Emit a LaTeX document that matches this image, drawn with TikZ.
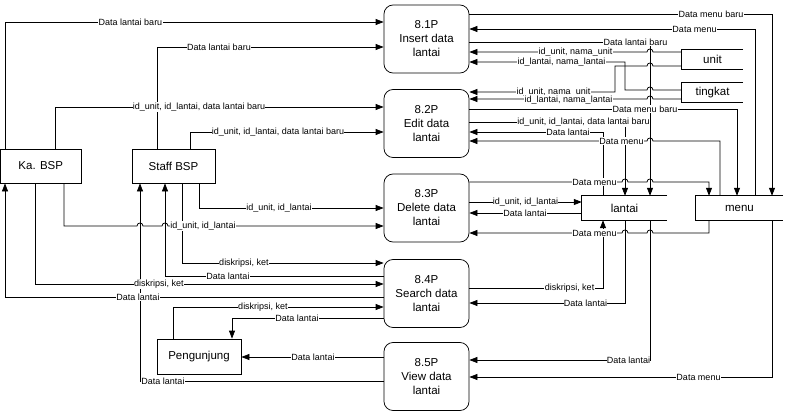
\documentclass[tikz,border=0pt]{standalone}
\usepackage{fontspec}
\setmainfont{Liberation Sans}
\usetikzlibrary{arrows.meta}
\begin{document}
\begin{tikzpicture}[x=1pt,y=-1pt,
  ar/.style={line width=0.75pt,-{Triangle[length=8pt,width=6pt]}},
  ln/.style={line width=0.75pt},
  proc/.style={draw,line width=0.75pt,rounded corners=9pt,minimum width=85pt,minimum height=68pt,inner sep=0pt,align=center,font=\fontsize{11.5}{14}\selectfont},
  ent/.style={draw,line width=0.75pt,inner sep=0pt,minimum height=34pt,font=\fontsize{11.5}{14}\selectfont},
  store/.style={inner sep=0pt,font=\fontsize{11.5}{14}\selectfont},
  lbl/.style={fill=white,inner sep=0.4pt,font=\fontsize{9}{10}\selectfont}]
\useasboundingbox (0,0) rectangle (789,412);
% processes
\node[proc] (p1) at (426.5,39) {8.1P\\Insert data\\lantai};
\node[proc] (p2) at (426.5,123.5) {8.2P\\Edit data\\lantai};
\node[proc] (p3) at (426.5,208) {8.3P\\Delete data\\lantai};
\node[proc] (p4) at (426.5,293.5) {8.4P\\Search data\\lantai};
\node[proc] (p5) at (426.5,376.5) {8.5P\\View data\\lantai};
% entities
\node[ent,minimum width=80.5pt] (ka) at (40.75,166) {Ka. BSP};
\node[ent,minimum width=83pt] (staff) at (173.5,166) {Staff BSP};
\node[ent,minimum width=84pt,minimum height=35pt] (peng) at (199,356.5) {Pengunjung};
% stores
\node[store,minimum width=61pt,minimum height=19pt] (unit) at (712.5,59.5) {unit};
\node[store,minimum width=61pt,minimum height=19pt] (tingkat) at (712.5,92.5) {tingkat};
\node[store,minimum width=85pt,minimum height=24pt] (lantai) at (624.5,208) {lantai};
\node[store,minimum width=87pt,minimum height=24pt] (menu) at (739.5,208) {menu};
\foreach \s in {unit,tingkat,lantai,menu}
  \draw[ln] (\s.north east) -- (\s.north west) -- (\s.south west) -- (\s.south east);
% left connectors
\draw[ar] (ka.north -| 5,0) -- (5,22) -- (p1.west |- 0,22);
\draw[ar] (staff.north -| 157,0) -- (157,47) -- (p1.west |- 0,47);
\draw[ar] (ka.north -| 55,0) -- (55,107) -- (p2.west |- 0,107);
\draw[ar] (staff.north -| 190,0) -- (190,132) -- (p2.west |- 0,132);
\draw[ar] (staff.south -| 199,0) -- (199,208) -- (p3.west |- 0,208);
\draw[ar] (ka.south -| 64,0) -- (64,226) -- (137,226) .. controls (137,222) and (143,222) .. (143,226) -- (162,226) .. controls (162,222) and (168,222) .. (168,226) -- (p3.west |- 0,226);
\draw[ar] (staff.south -| 182,0) -- (182,263) -- (p4.west |- 0,263);
\draw[ar] (p4.west |- 0,276) -- (165,276) -- (staff.south -| 165,0);
\draw[ar] (ka.south -| 35,0) -- (35,284) -- (p4.west |- 0,284);
\draw[ar] (p4.west |- 0,297) -- (5,297) -- (ka.south -| 5,0);
\draw[ar] (p5.west |- 0,381) -- (140,381) -- (staff.south -| 140,0);
\draw[ar] (peng.north -| 173,0) -- (173,307) -- (p4.west |- 0,307);
\draw[ar] (p4.west |- 0,318) -- (232,318) -- (peng.north -| 232,0);
\draw[ar] (p5.west |- 0,357) -- (peng.east |- 0,357);
% right connectors
\draw[ar] (p1.east |- 0,14) -- (772,14) -- (menu.north -| 772,0);
\draw[ar] (menu.north -| 755,0) -- (755,29) -- (p1.east |- 0,29);
\draw[ar] (p1.east |- 0,42) -- (650,42) -- (lantai.north -| 650,0);
\draw[ar] (unit.west |- 0,52) -- (653,52) .. controls (653,48) and (647,48) .. (647,52) -- (p1.east |- 0,52);
\draw[ar] (tingkat.west |- 0,90) -- (653,90) .. controls (653,86) and (647,86) .. (647,90) -- (625,90) -- (625,62) -- (p1.east |- 0,62);
\draw[ar] (unit.west |- 0,66) -- (653,66) .. controls (653,62) and (647,62) .. (647,66) -- (615,66) -- (615,92) -- (p2.east |- 0,92);
\draw[ar] (tingkat.west |- 0,99) -- (653,99) .. controls (653,95) and (647,95) .. (647,99) -- (p2.east |- 0,99);
\draw[ar] (p2.east |- 0,109) -- (737,109) -- (menu.north -| 737,0);
\draw[ar] (p2.east |- 0,122) -- (625,122) -- (lantai.north -| 625,0);
\draw[ar] (lantai.north -| 603,0) -- (603,132) -- (p2.east |- 0,132);
\draw[ar] (menu.north -| 720,0) -- (720,141) -- (653,141) .. controls (653,137) and (647,137) .. (647,141) -- (p2.east |- 0,141);
\draw[ar] (p3.east |- 0,182) -- (622,182) .. controls (622,178) and (628,178) .. (628,182) -- (647,182) .. controls (647,178) and (653,178) .. (653,182) -- (709,182) -- (menu.north -| 709,0);
\draw[ar] (p3.east |- 0,202) -- (lantai.west |- 0,202);
\draw[ar] (lantai.west |- 0,213) -- (p3.east |- 0,213);
\draw[ar] (menu.south -| 709,0) -- (709,233) -- (653,233) .. controls (653,229) and (647,229) .. (647,233) -- (628,233) .. controls (628,229) and (622,229) .. (622,233) -- (p3.east |- 0,233);
\draw[ar] (p4.east |- 0,288) -- (603,288) -- (lantai.south -| 603,0);
\draw[ar] (lantai.south -| 625,0) -- (625,303) -- (p4.east |- 0,303);
\draw[ar] (lantai.south -| 650,0) -- (650,360) -- (p5.east |- 0,360);
\draw[ar] (menu.south -| 772,0) -- (772,377) -- (p5.east |- 0,377);
% labels
\node[lbl] (t1) at (130.5,22) {Data lantai baru};
\node[lbl] (t2) at (219,47) {Data lantai baru};
\node[lbl] (t3) at (199,107) {id\_unit, id\_lantai, data lantai baru};
\node[lbl] (t4) at (278,132) {id\_unit, id\_lantai, data lantai baru};
\node[lbl] (t5) at (279,208) {id\_unit, id\_lantai};
\node[lbl] (t6) at (203,226) {id\_unit, id\_lantai};
\node[lbl] (t7) at (244,263) {diskripsi, ket};
\node[lbl] (t8) at (228,276) {Data lantai};
\node[lbl] (t9) at (159,284) {diskripsi, ket};
\node[lbl] (t10) at (138,297) {Data lantai};
\node[lbl] (t11) at (163,381) {Data lantai};
\node[lbl] (t12) at (263,307) {diskripsi, ket};
\node[lbl] (t13) at (297,318) {Data lantai};
\node[lbl] (t14) at (313,357) {Data lantai};
\node[lbl] (ta) at (711,14) {Data menu baru};
\node[lbl] (tb) at (694.5,29) {Data menu};
\node[lbl] (tc) at (635.5,42) {Data lantai baru};
\node[lbl] (td) at (575.5,52) {id\_unit, nama\_unit};
\node[lbl] (te) at (561.5,62) {id\_lantai, nama\_lantai};
\node[lbl] (tf) at (553.5,92) {id\_unit, nama\_unit};
\node[lbl] (tg) at (568.5,100) {id\_lantai, nama\_lantai};
\node[lbl] (th) at (645,109) {Data menu baru};
\node[lbl] (ti) at (583.5,122) {id\_unit, id\_lantai, data lantai baru};
\node[lbl] (tj) at (568,132) {Data lantai};
\node[lbl] (tk) at (621.5,141) {Data menu};
\node[lbl] (tl) at (594.5,182) {Data menu};
\node[lbl] (tm) at (525.5,202) {id\_unit, id\_lantai};
\node[lbl] (tn) at (525,213) {Data lantai};
\node[lbl] (to) at (594.5,233) {Data menu};
\node[lbl] (tp) at (569.5,288) {diskripsi, ket};
\node[lbl] (tq) at (585.5,303) {Data lantai};
\node[lbl] (tr) at (628.5,360) {Data lantai};
\node[lbl] (ts) at (698.5,377) {Data menu};
\end{tikzpicture}
\end{document}
